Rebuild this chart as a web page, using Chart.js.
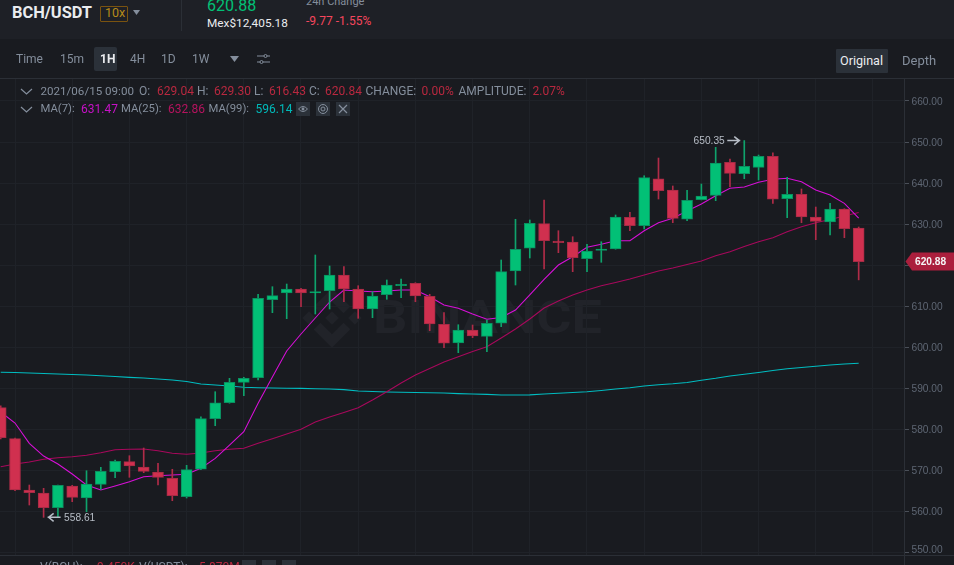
<!DOCTYPE html>
<html><head><meta charset="utf-8">
<script src="https://cdn.jsdelivr.net/npm/chart.js@4/dist/chart.umd.min.js"></script>
<style>
html,body{margin:0;padding:0;background:#191b20;width:954px;height:565px;overflow:hidden}
body{position:relative;font-family:Roboto,"Noto Sans",sans-serif}
canvas{position:absolute;left:0;top:0}
.t{position:absolute;white-space:nowrap;line-height:14px;font-size:12px;color:#848e9c;z-index:3}
.r{color:#b8283f}
.box{position:absolute;z-index:2}
#hdr{position:absolute;left:0;top:0;width:954px;height:39px;background:#1e2026;z-index:1}
#wm{position:absolute;left:300px;top:288px;z-index:0}
</style></head><body>
<div id="hdr"></div>
<svg id="wm" width="310" height="60" viewBox="0 0 310 60">
<g transform="translate(2,0) scale(0.476)" fill="#212329"><path d="M38.73 53.2L63 28.92l24.28 24.28 14.13-14.13L63 .66 24.6 39.07zM.66 63l14.13-14.13L28.92 63 14.8 77.13zM38.73 72.8L63 97.08l24.28-24.28 14.13 14.12L63 125.34 24.6 86.94zM97.08 63l14.13-14.13L125.34 63l-14.13 14.13zM77.33 63L63 48.67 52.4 59.27l-1.22 1.22-2.51 2.51L63 77.33z"/></g>
<text x="73" y="45" font-family="Roboto" font-weight="700" font-size="46" fill="#212329" textLength="229" lengthAdjust="spacingAndGlyphs">BINANCE</text>
</svg>
<canvas id="c" width="954" height="565"></canvas>

<div class="t" style="left:12px;top:5px;font-size:16.4px;font-weight:700;color:#eaecef;line-height:16px">BCH/USDT</div>
<div class="box" style="left:100px;top:6px;width:26px;height:14px;border:1px solid #7a5310;border-radius:1px"></div>
<div class="t" style="left:105px;top:6px;color:#b58a1a;font-size:12.5px">10x</div>
<svg class="box" style="left:133px;top:10px" width="7" height="5"><path d="M0 0H7L3.5 5z" fill="#848e9c"/></svg>
<div class="box" style="left:181px;top:0;width:1px;height:31px;background:#2b2f36"></div>
<div class="t" style="left:207px;top:-3px;font-size:16px;color:#02c076;line-height:18px">620.88</div>
<div class="t" style="left:207px;top:16px;color:#eaecef;font-size:11.8px">Mex$12,405.18</div>
<div class="t" style="left:306px;top:-5px;font-size:11px">24h Change</div>
<div class="t" style="left:306px;top:14px;color:#f6465d">-9.77 -1.55%</div>

<div class="t" style="left:16px;top:52px">Time</div>
<div class="t" style="left:60px;top:52px">15m</div>
<div class="box" style="left:94px;top:47px;width:23px;height:24px;background:#2b3139;border-radius:2px"></div>
<div class="t" style="left:100px;top:52px;color:#eaecef;font-weight:700">1H</div>
<div class="t" style="left:130px;top:52px">4H</div>
<div class="t" style="left:161px;top:52px">1D</div>
<div class="t" style="left:192px;top:52px">1W</div>
<svg class="box" style="left:230px;top:56px" width="9" height="6"><path d="M0 0H9L4.5 6z" fill="#848e9c"/></svg>
<svg class="box" style="left:257px;top:53px" width="13" height="12" fill="none" stroke="#848e9c"><path d="M0 3H7M10 3H13M0 9H3M6 9H13"/><circle cx="8.5" cy="3" r="1.5"/><circle cx="4.5" cy="9" r="1.5"/></svg>
<div class="box" style="left:836px;top:49px;width:52px;height:24px;background:#2b3139;border-radius:1px"></div>
<div class="t" style="left:840px;top:54px;color:#eaecef;font-size:12.6px">Original</div>
<div class="t" style="left:902px;top:54px;font-size:13px">Depth</div>
<div class="box" style="left:0;top:78px;width:954px;height:1px;background:#2b2f36"></div>

<svg class="box" style="left:20px;top:88px" width="13" height="7" fill="none" stroke="#848e9c" stroke-width="1.2"><path d="M1 1L6.5 6L12 1"/></svg>
<div class="t" style="left:40.5px;top:84px;font-size:11.6px">2021/06/15 09:00</div>
<div class="t" style="left:139px;top:84px">O:</div><div class="t r" style="left:157px;top:84px">629.04</div>
<div class="t" style="left:197px;top:84px">H:</div><div class="t r" style="left:214px;top:84px">629.30</div>
<div class="t" style="left:254px;top:84px">L:</div><div class="t r" style="left:269px;top:84px">616.43</div>
<div class="t" style="left:309px;top:84px">C:</div><div class="t r" style="left:325px;top:84px">620.84</div>
<div class="t" style="left:365.5px;top:84px">CHANGE:</div><div class="t r" style="left:421.5px;top:84px">0.00%</div>
<div class="t" style="left:458.5px;top:84px">AMPLITUDE:</div><div class="t r" style="left:532.5px;top:84px">2.07%</div>

<svg class="box" style="left:20px;top:106px" width="13" height="7" fill="none" stroke="#848e9c" stroke-width="1.2"><path d="M1 1L6.5 6L12 1"/></svg>
<div class="t" style="left:40.5px;top:102px;font-size:11.3px">MA(7):</div><div class="t" style="left:81px;top:102px;color:#c711c7">631.47</div>
<div class="t" style="left:121px;top:102px;font-size:11.3px">MA(25):</div><div class="t" style="left:168px;top:102px;color:#b5135e">632.86</div>
<div class="t" style="left:208.5px;top:102px;font-size:11.3px">MA(99):</div><div class="t" style="left:255.5px;top:102px;color:#00b8b8">596.14</div>
<svg class="box" style="left:296px;top:102px" width="14" height="14"><rect width="14" height="14" fill="#2b3139"/><path d="M2.5 7Q7 2 11.5 7Q7 12 2.5 7z" fill="none" stroke="#848e9c"/><circle cx="7" cy="7" r="1.4" fill="#848e9c"/></svg>
<svg class="box" style="left:316px;top:102px" width="14" height="14"><rect width="14" height="14" fill="#2b3139"/><circle cx="7" cy="7" r="4.5" fill="none" stroke="#848e9c"/><circle cx="7" cy="7" r="2" fill="none" stroke="#848e9c"/></svg>
<svg class="box" style="left:336px;top:102px" width="14" height="14"><rect width="14" height="14" fill="#2b3139"/><path d="M3 3L11 11M11 3L3 11" stroke="#848e9c" stroke-width="1.2"/></svg>

<div class="box" style="left:0;top:555px;width:954px;height:1px;background:#2b2f36"></div>
<div class="box" style="left:904px;top:555px;width:1px;height:10px;background:#2b2f36"></div>
<div class="t" style="left:40px;top:560px">V(BCH):</div><div class="t r" style="left:97px;top:560px">9.450K</div>
<div class="t" style="left:139px;top:560px">V(USDT):</div><div class="t r" style="left:199px;top:560px">5.870M</div>
<div class="box" style="left:242px;top:560px;width:14px;height:14px;background:#2b3139"></div>
<div class="box" style="left:262px;top:560px;width:14px;height:14px;background:#2b3139"></div>
<div class="box" style="left:282px;top:560px;width:14px;height:14px;background:#2b3139"></div>

<script>
const opens=[585.31,577.76,565.27,564.54,560.96,566.24,563.32,566.65,569.72,572.16,570.87,569.65,568.11,563.63,570.31,582.63,586.52,591.49,592.61,611.60,613.23,614.21,613.23,613.79,617.62,614.21,609.34,612.82,615.01,615.59,612.43,605.61,601.06,604.22,602.69,605.88,618.59,624.12,630.11,625.89,625.65,621.58,623.63,623.95,631.67,629.62,641.06,638.31,631.18,635.95,637.02,645.06,642.28,643.84,646.52,636.19,637.27,631.74,630.52,633.69,629.04];
const highs=[585.79,577.90,566.48,565.68,566.48,566.41,569.96,570.79,572.57,573.62,575.49,571.77,570.31,571.28,583.11,589.20,592.46,592.71,612.92,614.77,615.42,614.38,622.49,619.81,619.64,615.01,613.55,616.40,616.64,615.74,612.92,608.44,605.51,605.44,606.66,621.27,631.18,631.01,635.88,628.40,626.94,625.09,625.72,632.23,632.88,641.79,646.10,639.29,638.24,639.77,648.71,645.86,650.35,646.83,647.39,641.40,638.56,634.17,635.07,633.75,629.30];
const lows=[577.68,565.10,561.61,558.61,558.80,562.42,559.98,565.44,568.26,568.36,569.48,566.48,562.66,563.32,570.20,580.92,586.40,588.23,592.05,608.44,606.98,609.90,608.12,609.34,611.11,607.07,607.22,611.70,612.09,611.11,604.05,599.91,598.70,602.35,598.94,605.03,615.18,621.76,619.08,623.05,618.42,618.42,620.71,623.90,628.40,628.82,636.12,630.35,630.84,635.90,635.71,639.12,641.06,640.75,635.07,631.57,630.35,626.21,627.36,626.70,616.43];
const closes=[578.00,565.27,564.61,560.96,566.41,563.49,566.73,569.82,572.25,571.11,569.82,568.36,563.88,570.21,582.63,586.52,591.49,592.46,611.94,612.58,614.21,613.23,613.55,617.62,614.21,609.34,612.50,615.18,615.35,612.50,605.68,600.99,604.22,602.76,605.86,618.42,623.87,630.20,625.97,625.48,621.83,623.46,623.95,631.74,629.62,641.31,638.14,631.42,635.80,636.85,644.89,642.38,644.08,646.52,636.05,637.27,631.74,630.69,633.69,628.89,620.84];
const ma7=[584.26,581.58,576.64,573.54,571.60,569.16,566.48,565.27,566.24,567.29,568.50,568.75,568.92,569.09,570.55,572.98,576.22,579.46,586.38,592.78,599.11,603.25,607.15,611.04,613.96,613.72,613.55,613.72,613.96,613.96,612.33,610.31,609.51,608.12,606.83,607.27,609.09,612.75,616.57,620.05,622.07,624.36,625.09,625.97,625.97,628.40,630.35,631.42,633.20,634.90,636.92,638.73,639.04,640.19,640.92,641.16,640.33,638.31,637.10,635.07,631.47];
const ma25=[570.94,571.60,572.08,572.74,573.13,573.37,573.71,574.35,575.08,575.17,575.25,574.83,574.20,573.96,574.27,574.83,575.17,575.42,576.64,577.76,578.90,580.04,581.82,583.04,584.14,585.30,587.18,589.20,591.32,593.27,594.85,596.43,597.72,598.99,600.16,602.28,604.47,606.90,609.58,611.28,612.75,613.96,615.01,615.79,616.64,617.62,618.59,619.32,620.17,621.02,622.32,623.29,624.56,625.72,626.70,628.16,629.38,630.35,631.13,631.98,632.86];
const ma99=[593.92,593.87,593.75,593.63,593.50,593.40,593.27,593.10,592.90,592.70,592.54,592.30,592.05,591.70,591.09,590.83,590.59,590.27,590.17,590.10,590.05,590.00,589.93,589.86,589.71,589.37,589.25,589.13,589.08,589.00,588.93,588.88,588.74,588.64,588.54,588.40,588.40,588.44,588.64,588.84,589.00,589.20,589.50,589.86,590.17,590.59,590.88,591.12,591.44,591.98,592.46,593.02,593.44,593.87,594.36,594.78,595.09,595.41,595.70,595.94,596.14];
const GREEN='#02c076',RED='#d0304f',GREEN_EDGE='#0b8f60',RED_EDGE='#a62b45',GREEN_WICK='#0fa36c',RED_WICK='#b02c48';
const up=i=>closes[i]>=opens[i];
const idx=opens.map((_,i)=>i);
const lineDs=(label,values,color,w)=>({type:'line',label,data:values.map((y,x)=>({x,y})),borderColor:color,borderWidth:w,pointRadius:0,tension:0,fill:false,order:3,clip:false});
const annot={id:'annot',afterDraw(ch){
  const {ctx,scales:{x,y}}=ch;ctx.save();
  ctx.font='10.2px "Liberation Sans"';ctx.textBaseline='middle';
  // 550 tick label, lifted off the chart edge as in the terminal
  ctx.fillStyle='#5e6673';ctx.textAlign='left';ctx.fillText('550.00',911.5,y.getPixelForValue(550)-3);
  ctx.fillStyle='#b7bdc6';ctx.strokeStyle='#b7bdc6';ctx.lineWidth=1.5;
  // low marker
  const lowI=lows.indexOf(Math.min(...lows)),hiI=highs.indexOf(Math.max(...highs));
  let px=x.getPixelForValue(lowI),py=y.getPixelForValue(lows[lowI]);
  ctx.fillText(lows[lowI].toFixed(2),px+20.5,py+0.5);
  ctx.beginPath();ctx.moveTo(px+4,py);ctx.lineTo(px+17,py);ctx.moveTo(px+10,py-4);ctx.lineTo(px+5,py);ctx.lineTo(px+10,py+4);ctx.stroke();
  // high marker
  px=x.getPixelForValue(hiI);py=y.getPixelForValue(highs[hiI]);
  ctx.textAlign='right';ctx.fillText(highs[hiI].toFixed(2),px-19.5,py+0.5);
  ctx.beginPath();ctx.moveTo(px-17,py);ctx.lineTo(px-4,py);ctx.moveTo(px-10,py-4);ctx.lineTo(px-5,py);ctx.lineTo(px-10,py+4);ctx.stroke();
  // last price tag
  const ty=y.getPixelForValue(620.88);
  ctx.fillStyle='#ab1f3d';ctx.beginPath();ctx.moveTo(905.5,ty);ctx.lineTo(912,ty-9);ctx.lineTo(954,ty-9);ctx.lineTo(954,ty+9);ctx.lineTo(912,ty+9);ctx.closePath();ctx.fill();
  ctx.fillStyle='#f5f5f5';ctx.textAlign='left';ctx.font='bold 10.2px "Liberation Sans"';ctx.fillText('620.88',915,ty+0.5);
  ctx.restore();
}};
new Chart(document.getElementById('c'),{
  type:'bar',
  data:{datasets:[
    {label:'Body',data:idx.map(i=>({x:i,y:[opens[i],closes[i]]})),grouped:false,barThickness:11,
     backgroundColor:idx.map(i=>up(i)?GREEN:RED),borderColor:idx.map(i=>up(i)?GREEN_EDGE:RED_EDGE),borderWidth:1,borderSkipped:false,order:1},
    {label:'Wick',data:idx.map(i=>({x:i,y:[lows[i],highs[i]]})),grouped:false,barThickness:1,
     backgroundColor:idx.map(i=>up(i)?GREEN_WICK:RED_WICK),borderWidth:0,order:2},
    lineDs('MA(7)',ma7,'#d80fd8',1.05),
    lineDs('MA(25)',ma25,'#a8085c',1.05),
    lineDs('MA(99)',ma99,'#00bcc0',1.1)
  ]},
  options:{
    responsive:false,animation:false,devicePixelRatio:1,
    layout:{padding:{top:79,bottom:10,left:0,right:0}},
    plugins:{legend:{display:false},tooltip:{enabled:false}},
    scales:{
      x:{type:'linear',min:-0.05,max:63.17,offset:false,
         grid:{color:'#1f2228',drawTicks:false,lineWidth:1},border:{display:false},
         ticks:{display:false},
         afterBuildTicks(s){s.ticks=[3,7,11,15,19,23,27,31,35,39,43,47,51,55,59,63].map(value=>({value}));},
         afterFit(s){s.height=0;}},
      y:{position:'right',min:549.44,max:665.34,
         grid:{color:'#1f2228',tickColor:'#4a4f58',tickLength:5,lineWidth:1},
         border:{color:'#2b2f36',display:true},
         ticks:{stepSize:10,includeBounds:false,color:'#5e6673',padding:2.5,labelOffset:1,font:{family:'"Liberation Sans"',size:10.2},
                callback:v=>v===550?'':Number(v).toFixed(2)},
         afterFit(s){s.width=50;}}
    }
  },
  plugins:[annot]
});
</script>
</body></html>
